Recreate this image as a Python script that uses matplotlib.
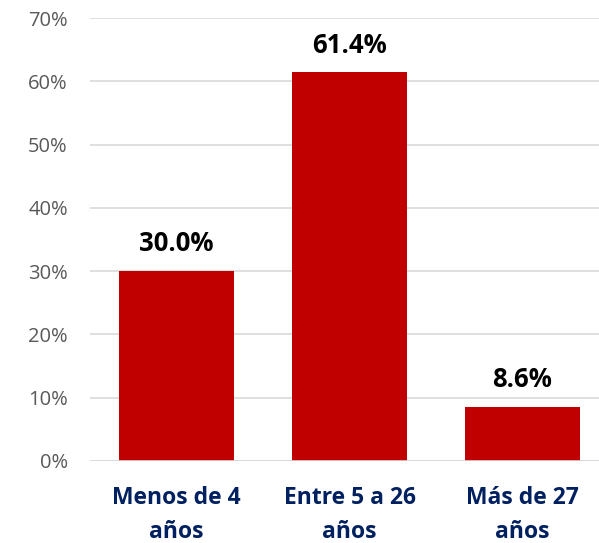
import matplotlib.pyplot as plt
import numpy as np

categories = ['Menos de 4\naños', 'Entre 5 a 26\naños', 'Más de 27\naños']
values = [30.0, 61.4, 8.6]
yticks = [0, 10, 20, 30, 40, 50, 60, 70]

plt.rcParams['font.family'] = ['Open Sans', 'DejaVu Sans']

fig = plt.figure(figsize=(5.99, 5.43), dpi=100)
ax = fig.add_axes([90 / 599, 1 - 461 / 543, 1 - 90 / 599, (461 - 18) / 543])

x = np.arange(len(categories))
ax.bar(x, values, width=0.665, color='#C00000', zorder=3)

# data labels above bars
for xi, v in zip(x, values):
    ax.text(xi, v + 2.2, f'{v:.1f}%', ha='center', va='bottom',
            fontsize=18.5, fontweight='bold', color='black')

ax.set_ylim(0, 70)
ax.set_xlim(-0.5, 2.442)
ax.set_yticks(yticks)
ax.set_yticklabels([f'{t}%' for t in yticks], color='#595959', fontsize=14.5)
ax.set_xticks(x)
ax.set_xticklabels(categories, fontsize=16.5, fontweight='bold', color='#002060',
                   linespacing=1.55)
ax.tick_params(axis='both', length=0)
ax.tick_params(axis='y', pad=16)
ax.tick_params(axis='x', pad=18)

ax.yaxis.grid(True, color='#D9D9D9', linewidth=1.2, zorder=0)
for s in ax.spines.values():
    s.set_visible(False)
ax.axhline(0, color='#D9D9D9', linewidth=1.2, zorder=4)

fig.savefig('out.png', dpi=100)
